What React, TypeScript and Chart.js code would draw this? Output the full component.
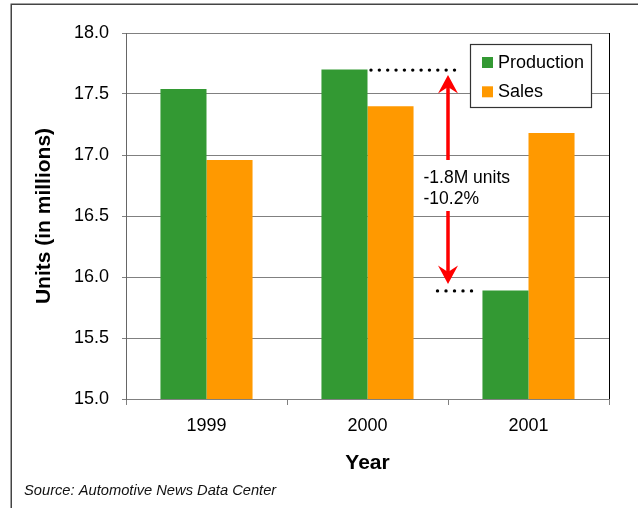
import React, { useEffect, useRef } from "react";
import { Chart, registerables } from "chart.js";

Chart.register(...registerables);

const categories = ["1999", "2000", "2001"];
const productionValues = [17.54, 17.7, 15.89];
const salesValues = [16.96, 17.4, 17.18];
const seriesNames = ["Production", "Sales"];
const seriesColors = ["#339933", "#FF9900"];
const yMin = 15.0;
const yMax = 18.0;
const yStep = 0.5;
const xTitle = "Year";
const yTitle = "Units (in millions)";
const annotationLines = ["-1.8M units", "-10.2%"];
const sourceNote = "Source: Automotive News Data Center";

const FONT = "'Liberation Sans', Arial, Helvetica, sans-serif";

const overlayPlugin = {
  id: "overlay",
  beforeDraw(chart: any) {
    const { ctx, width, height } = chart;
    ctx.save();
    ctx.fillStyle = "#ffffff";
    ctx.fillRect(0, 0, width, height);
    ctx.strokeStyle = "#444444";
    ctx.lineWidth = 1.5;
    ctx.strokeRect(11.25, 4.25, width + 20, height + 20);
    ctx.restore();
  },
  afterDatasetsDraw(chart: any) {
    const { ctx, chartArea, scales } = chart;
    const xs = scales.x;
    const ys = scales.y;
    ctx.save();

    // right border of plot
    ctx.strokeStyle = "#000000";
    ctx.lineWidth = 1;
    ctx.beginPath();
    ctx.moveTo(chartArea.right + 0.5, chartArea.top);
    ctx.lineTo(chartArea.right + 0.5, chartArea.bottom);
    ctx.stroke();

    // annotation
    const hi = ys.getPixelForValue(productionValues[1]);
    const lo = ys.getPixelForValue(productionValues[2]);
    const c1 = xs.getPixelForValue(1);
    const c2 = xs.getPixelForValue(2);
    const ax = (c1 + c2) / 2;

    ctx.fillStyle = "#000000";
    const drawDots = (x0: number, x1: number, yy: number, n: number) => {
      for (let i = 0; i < n; i++) {
        const px = x0 + ((x1 - x0) * i) / (n - 1);
        ctx.beginPath();
        ctx.arc(px, yy, 1.7, 0, Math.PI * 2);
        ctx.fill();
      }
    };
    drawDots(c1 + 3.5, ax + 6.5, hi + 0.5, 11);
    drawDots(ax - 10.5, ax + 23.5, lo + 0.5, 5);

    const mid = (hi + lo) / 2;
    const topTip = hi + 5.5;
    const botTip = lo - 6.5;
    ctx.strokeStyle = "#FF0000";
    ctx.fillStyle = "#FF0000";
    ctx.lineWidth = 3.5;
    ctx.beginPath();
    ctx.moveTo(ax, topTip + 12);
    ctx.lineTo(ax, mid - 20);
    ctx.moveTo(ax, mid + 31);
    ctx.lineTo(ax, botTip - 12);
    ctx.stroke();
    const head = (tip: number, dir: number) => {
      ctx.beginPath();
      ctx.moveTo(ax, tip);
      ctx.lineTo(ax - 10, tip + dir * 18.5);
      ctx.lineTo(ax, tip + dir * 12);
      ctx.lineTo(ax + 10, tip + dir * 18.5);
      ctx.closePath();
      ctx.fill();
    };
    head(topTip, 1);
    head(botTip, -1);

    ctx.fillStyle = "#000000";
    ctx.font = `17.5px ${FONT}`;
    ctx.textAlign = "left";
    ctx.textBaseline = "middle";
    ctx.fillText(annotationLines[0], ax - 24.5, mid - 2);
    ctx.fillText(annotationLines[1], ax - 24.5, mid + 19);

    // legend
    const lx = chartArea.right - 139;
    const ly = chartArea.top + 11;
    const lw = 121;
    const lh = 63;
    ctx.fillStyle = "#ffffff";
    ctx.fillRect(lx, ly, lw, lh);
    ctx.strokeStyle = "#333333";
    ctx.lineWidth = 1.2;
    ctx.strokeRect(lx + 0.5, ly + 0.5, lw, lh);
    ctx.font = `18px ${FONT}`;
    chart.data.datasets.forEach((ds: any, i: number) => {
      const cy = ly + 18.5 + i * 29.3;
      ctx.fillStyle = ds.backgroundColor;
      ctx.fillRect(lx + 12, cy - 5.5, 11, 11);
      ctx.fillStyle = "#000000";
      ctx.fillText(ds.label, lx + 28, cy + 0.5);
    });

    ctx.restore();
  },
  afterDraw(chart: any) {
    const { ctx } = chart;
    ctx.save();
    ctx.fillStyle = "#111111";
    ctx.font = `italic 14.7px ${FONT}`;
    ctx.textAlign = "left";
    ctx.textBaseline = "middle";
    ctx.fillText(sourceNote, 24, 491);
    ctx.restore();
  },
};

export default function App() {
  const canvasRef = useRef<HTMLCanvasElement | null>(null);

  useEffect(() => {
    if (!canvasRef.current) return;
    const chart = new Chart(canvasRef.current, {
      type: "bar",
      data: {
        labels: categories,
        datasets: [
          {
            label: seriesNames[0],
            data: productionValues,
            backgroundColor: seriesColors[0],
            borderWidth: 0,
            barPercentage: 1.0,
            categoryPercentage: 0.572,
          },
          {
            label: seriesNames[1],
            data: salesValues,
            backgroundColor: seriesColors[1],
            borderWidth: 0,
            barPercentage: 1.0,
            categoryPercentage: 0.572,
          },
        ],
      },
      options: {
        animation: false,
        responsive: false,
        devicePixelRatio: 1,
        layout: { padding: { top: 33, right: 29, left: 0, bottom: 0 } },
        plugins: {
          legend: { display: false },
          tooltip: { enabled: false },
        },
        scales: {
          x: {
            grid: {
              display: true,
              drawOnChartArea: false,
              drawTicks: true,
              tickLength: 6,
              color: "#808080",
              offset: true,
            },
            border: { display: true, color: "#808080", width: 1 },
            ticks: {
              color: "#000000",
              font: { family: FONT, size: 18 },
              padding: 10,
            },
            title: {
              display: true,
              text: xTitle,
              color: "#000000",
              font: { family: FONT, size: 21, weight: "bold" },
              padding: { top: 0, bottom: 32 },
            },
            afterFit: (s: any) => {
              s.height = 109;
            },
          },
          y: {
            min: yMin,
            max: yMax,
            grid: { color: "#808080", tickLength: 4 },
            border: { display: true, color: "#666666", width: 1 },
            ticks: {
              stepSize: yStep,
              color: "#000000",
              font: { family: FONT, size: 18 },
              padding: 13,
              callback: (v: any) => Number(v).toFixed(1),
            },
            title: {
              display: true,
              text: yTitle,
              color: "#000000",
              font: { family: FONT, size: 21, weight: "bold" },
              padding: { top: 32, bottom: 0 },
            },
            afterFit: (s: any) => {
              s.width = 126;
            },
          },
        },
      } as any,
      plugins: [overlayPlugin],
    });
    return () => chart.destroy();
  }, []);

  return (
    <div style={{ position: "fixed", left: 0, top: 0, width: 638, height: 508 }}>
      <canvas ref={canvasRef} width={638} height={508} />
    </div>
  );
}
